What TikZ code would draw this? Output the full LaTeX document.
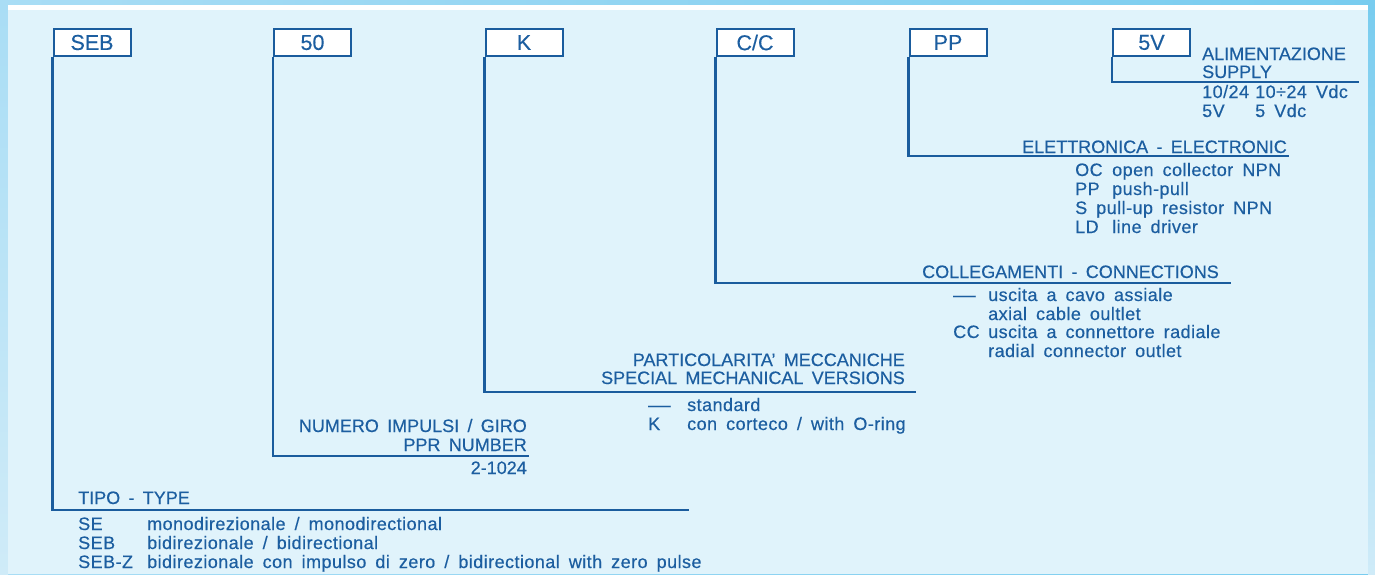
\documentclass[tikz,border=0pt]{standalone}
\usepackage{fontspec}
\usepackage{graphicx}
\setmainfont{Liberation Sans}
\newfontfamily\itemfont[LetterSpace=2.5,WordSpace=1.66,FakeBold=0.4]{Liberation Sans}
\newfontfamily\headfont[WordSpace=1.66,FakeBold=0.4]{Liberation Sans}
\newfontfamily\boxfont[FakeBold=0.3]{Liberation Sans}
\definecolor{ln}{HTML}{1A5C9D}
\definecolor{txt}{HTML}{1C5EA0}
\definecolor{inner}{HTML}{E0F3FB}
\definecolor{fa}{HTML}{A9DDF5}
\definecolor{fb}{HTML}{78CCEF}
\definecolor{fc}{HTML}{CFEBF8}
\tikzset{
  lbl/.style={font=\itemfont\fontsize{18}{19}\selectfont, text=txt, inner sep=0pt, anchor=base west},
  hd/.style={lbl, font=\headfont\fontsize{18}{19}\selectfont},
  hdr/.style={hd, anchor=base east},
  cbox/.style={draw=ln, line width=2pt, fill=white, minimum width=77pt, minimum height=27pt, inner sep=0pt, font=\boxfont\fontsize{21.5}{22}\selectfont, text=txt},
  conn/.style={draw=ln, line width=2.2pt},
}
\begin{document}
\begin{tikzpicture}[x=1pt,y=-1pt]
\useasboundingbox (0,0) rectangle (1375,574);
% background frame
\shade[left color=fa, right color=fb] (0,0) rectangle (1375,574);
\shade[top color=fa, bottom color=fc] (0,5) rectangle (8,574);
\shade[top color=fb, bottom color=fc] (1368,5) rectangle (1375,574);
\fill[white] (8,5) rectangle (1368,10);
\fill[inner] (8,10) rectangle (1368,574);

% code boxes
\node[cbox] (bSEB) at (92,42.5) {SEB};
\node[cbox] (b50) at (312.5,42.5) {50};
\node[cbox] (bK) at (524,42.5) {K};
\node[cbox] (bCC) at (755,42.5) {C/C};
\node[cbox] (bPP) at (948,42.5) {PP};
\node[cbox] (b5V) at (1151.5,42.5) {5V};

% end points of the bracket lines
\coordinate (eTIPO) at (689,510);
\coordinate (eNUM) at (529,456);
\coordinate (eMEC) at (916,392);
\coordinate (eCOL) at (1231,283);
\coordinate (eELE) at (1289,156);
\coordinate (eALI) at (1359,82);

\draw[conn] (bSEB.south west) |- (eTIPO);
\draw[conn] (b50.south west) |- (eNUM);
\draw[conn] (bK.south west) |- (eMEC);
\draw[conn] (bCC.south west) |- (eCOL);
\draw[conn] (bPP.south west) |- (eELE);
\draw[conn] (b5V.south west) |- (eALI);

% TIPO - TYPE
\node[hd] (tTipo) at (78,504) {TIPO - TYPE};
\node[lbl] (tSE) at (78,530) {SE};
\node[lbl] (tSEd) at (147,530) {monodirezionale / monodirectional};
\node[lbl] (tSEB) at (78,549) {SEB};
\node[lbl] (tSEBd) at (147,549) {bidirezionale / bidirectional};
\node[lbl] (tSEBZ) at (78,568) {SEB-Z};
\node[lbl] (tSEBZd) at (147,568) {bidirezionale con impulso di zero / bidirectional with zero pulse};

% NUMERO IMPULSI
\node[hdr] (tNum1) at (527,432) {NUMERO IMPULSI / GIRO};
\node[hdr] (tNum2) at (527,451) {PPR NUMBER};
\node[hdr] (tNum3) at (527,474) {2-1024};

% PARTICOLARITA'
\node[hdr] (tMec1) at (905,366) {PARTICOLARITA’ MECCANICHE};
\node[hdr] (tMec2) at (905,384) {SPECIAL MECHANICAL VERSIONS};
\node[lbl] (tMecD) at (648,411) {\scalebox{1.25}[1]{—}};
\node[lbl] (tMecS) at (687,411) {standard};
\node[lbl] (tMecK) at (648,430) {K};
\node[lbl] (tMecKd) at (687,430) {con corteco / with O-ring};

% COLLEGAMENTI
\node[hdr] (tCol) at (1219,278) {COLLEGAMENTI - CONNECTIONS};
\node[lbl] (tColD) at (953,301) {\scalebox{1.25}[1]{—}};
\node[lbl] (tCol1) at (988,301) {uscita a cavo assiale};
\node[lbl] (tCol2) at (988,320) {axial cable oultlet};
\node[lbl] (tColC) at (953,338) {CC};
\node[lbl] (tCol3) at (988,338) {uscita a connettore radiale};
\node[lbl] (tCol4) at (988,357) {radial connector outlet};

% ELETTRONICA
\node[hdr] (tEle) at (1287,153) {ELETTRONICA - ELECTRONIC};
\node[lbl] (tOC) at (1075,176) {OC};
\node[lbl] (tOCd) at (1112,176) {open collector NPN};
\node[lbl] (tPP) at (1075,195) {PP};
\node[lbl] (tPPd) at (1112,195) {push-pull};
\node[lbl] (tS) at (1075,214) {S pull-up resistor NPN};
\node[lbl] (tLD) at (1075,233) {LD};
\node[lbl] (tLDd) at (1112,233) {line driver};

% ALIMENTAZIONE
\node[hd] (tAli1) at (1202,60) {ALIMENTAZIONE};
\node[hd] (tAli2) at (1202,78) {SUPPLY};
\node[lbl] (tV1) at (1202,98) {10/24};
\node[lbl] (tV1d) at (1255,98) {10÷24 Vdc};
\node[lbl] (tV2) at (1202,117) {5V};
\node[lbl] (tV2d) at (1255,117) {5 Vdc};
\end{tikzpicture}
\end{document}
